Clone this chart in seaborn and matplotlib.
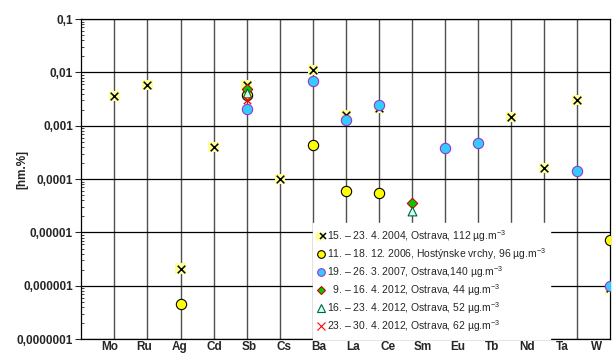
import numpy as np
import pandas as pd
import matplotlib
matplotlib.use('Agg')
import matplotlib.pyplot as plt
from matplotlib.lines import Line2D
from matplotlib.legend_handler import HandlerTuple
import seaborn as sns

nan = np.nan

# slots 1..16 on the x axis (the element labels sit on their own spacing)
prvky = ['Mo', 'Ru', 'Ag', 'Cd', 'Sb', 'Cs', 'Ba', 'La', 'Ce', 'Sm', 'Eu', 'Tb', 'Nd', 'Ta', 'W']
pozice = list(range(1, 17))

s2004 = [0.00365, 0.0058, 2.1e-6, 0.0004, 0.0058, 0.000102, 0.011, 0.00158,
         0.0022, nan, nan, nan, 0.00145, 0.000163, 0.0030, 8.9e-7]
s2006 = [nan, nan, 4.5e-7, nan, 0.0037, nan, 0.00044, 6.0e-5,
         5.6e-5, nan, nan, nan, nan, nan, nan, 7.2e-6]
s2007 = [nan, nan, nan, nan, 0.0021, nan, 0.0070, 0.00128,
         0.0025, nan, 0.00039, 0.00047, nan, nan, 0.000141, 9.8e-7]
s2012a = [nan, nan, nan, nan, 0.0048, nan, nan, nan,
          nan, 3.5e-5, nan, nan, nan, nan, nan, nan]
s2012b = [nan, nan, nan, nan, 0.0041, nan, nan, nan,
          nan, 2.5e-5, nan, nan, nan, nan, nan, nan]
s2012c = [nan, nan, nan, nan, 0.0031, nan, nan, nan,
          nan, nan, nan, nan, nan, nan, nan, nan]

popisky = ['15. – 23. 4. 2004, Ostrava, 112 µg.m$^{-3}$',
           '11. – 18. 12. 2006, Hostýnske vrchy, 96 µg.m$^{-3}$',
           '19. – 26. 3. 2007, Ostrava,140 µg.m$^{-3}$',
           '  9. – 16. 4. 2012, Ostrava, 44 µg.m$^{-3}$',
           '16. – 23. 4. 2012, Ostrava, 52 µg.m$^{-3}$',
           '23. – 30. 4. 2012, Ostrava, 62 µg.m$^{-3}$']

ytick_hodnoty = [1e-7, 1e-6, 1e-5, 1e-4, 1e-3, 1e-2, 1e-1]
ytick_popisky = ['0,0000001', '0,000001', '0,00001', '0,0001', '0,001', '0,01', '0,1']

sns.set_style('white')
plt.rcParams['font.family'] = ['Liberation Sans', 'DejaVu Sans']
plt.rcParams['mathtext.fontset'] = 'custom'
plt.rcParams['mathtext.rm'] = 'Liberation Sans'
plt.rcParams['mathtext.it'] = 'Liberation Sans'

fig = plt.figure(figsize=(6.12, 3.54), dpi=100)
ax = fig.add_axes([0.133, 0.042, 0.864, 0.904])

# styl kazde rady: (marker, vypln, okraj, velikost)
styly = [
    dict(marker='s', color='#ffff99', edgecolor='none', s=55),
    dict(marker='o', color='#ffff00', edgecolor='black', s=55, linewidth=0.8),
    dict(marker='o', color='#33ccff', edgecolor='#9933cc', s=55, linewidth=0.8),
    dict(marker='D', color='#00cc00', edgecolor='#cc0000', s=28, linewidth=0.8),
    dict(marker='^', color='#ccffff', edgecolor='#006633', s=40, linewidth=0.8),
    dict(marker='x', color='#ff0000', s=28, linewidth=1.0),
]
rady = [s2004, s2006, s2007, s2012a, s2012b, s2012c]

for i, (r, st) in enumerate(zip(rady, styly)):
    df = pd.DataFrame({'x': pozice, 'y': r}).dropna()
    sns.scatterplot(data=df, x='x', y='y', ax=ax, zorder=3 + i, clip_on=True, **st)
    if i == 0:
        sns.scatterplot(data=df, x='x', y='y', ax=ax, zorder=3, marker='x',
                        color='black', s=30, linewidth=1.1)

ax.set_yscale('log')
ax.set_ylim(1e-7, 0.1)
ax.set_xlim(0, 16)

ax.set_yticks(ytick_hodnoty, ytick_popisky)
ax.yaxis.set_minor_locator(matplotlib.ticker.LogLocator(base=10, subs=np.arange(2, 10)))
ax.yaxis.set_minor_formatter(matplotlib.ticker.NullFormatter())
ax.tick_params(axis='y', which='major', direction='out', length=4, width=0.8,
               labelsize=8.5, left=True, pad=2)
ax.tick_params(axis='y', which='minor', direction='in', length=2, width=0.6, left=True)
for t in ax.get_yticklabels():
    t.set_fontweight('bold')

# popisky prvku maji vlastni rozestup
ax.set_xticks(np.linspace(0.85, 15.6, len(prvky)), prvky, fontweight='bold', fontsize=8.5)
ax.set_xticks(range(1, 16), minor=True)
ax.tick_params(axis='x', which='both', length=0, pad=1)

ax.grid(which='minor', axis='x', color='#505050', linewidth=1.0)
ax.grid(which='major', axis='y', color='black', linewidth=0.9)
ax.set_axisbelow(True)
for sp in ax.spines.values():
    sp.set_color('black')
    sp.set_linewidth(0.9)

ax.set_xlabel('')
ax.set_ylabel('[hm.%]', fontweight='bold', fontsize=8.5)
ax.yaxis.set_label_coords(-0.1, 0.53)

# legenda
h_cross = (Line2D([], [], marker='s', color='none', markerfacecolor='#ffff99',
                  markeredgecolor='none', markersize=6),
           Line2D([], [], marker='x', color='none', markeredgecolor='black', markersize=4.5,
                  markeredgewidth=1.1))
handles = [h_cross]
for st in styly[1:]:
    handles.append(Line2D([], [], marker=st['marker'], color='none',
                          markerfacecolor=st['color'],
                          markeredgecolor=st.get('edgecolor', st['color']),
                          markersize=5.5 if st['marker'] != 'D' else 4.5,
                          markeredgewidth=0.8))
leg = ax.legend(handles, popisky, loc='upper left', bbox_to_anchor=(0.4375, 0.3625),
                frameon=True, fancybox=False, framealpha=1, edgecolor='white',
                facecolor='white', fontsize=7.5, handlelength=0.7, handletextpad=0.2,
                labelspacing=0.22, borderpad=0.45, borderaxespad=0,
                handler_map={tuple: HandlerTuple(ndivide=None, pad=0)})
leg.set_zorder(10)

fig.savefig('out.png', dpi=100)
